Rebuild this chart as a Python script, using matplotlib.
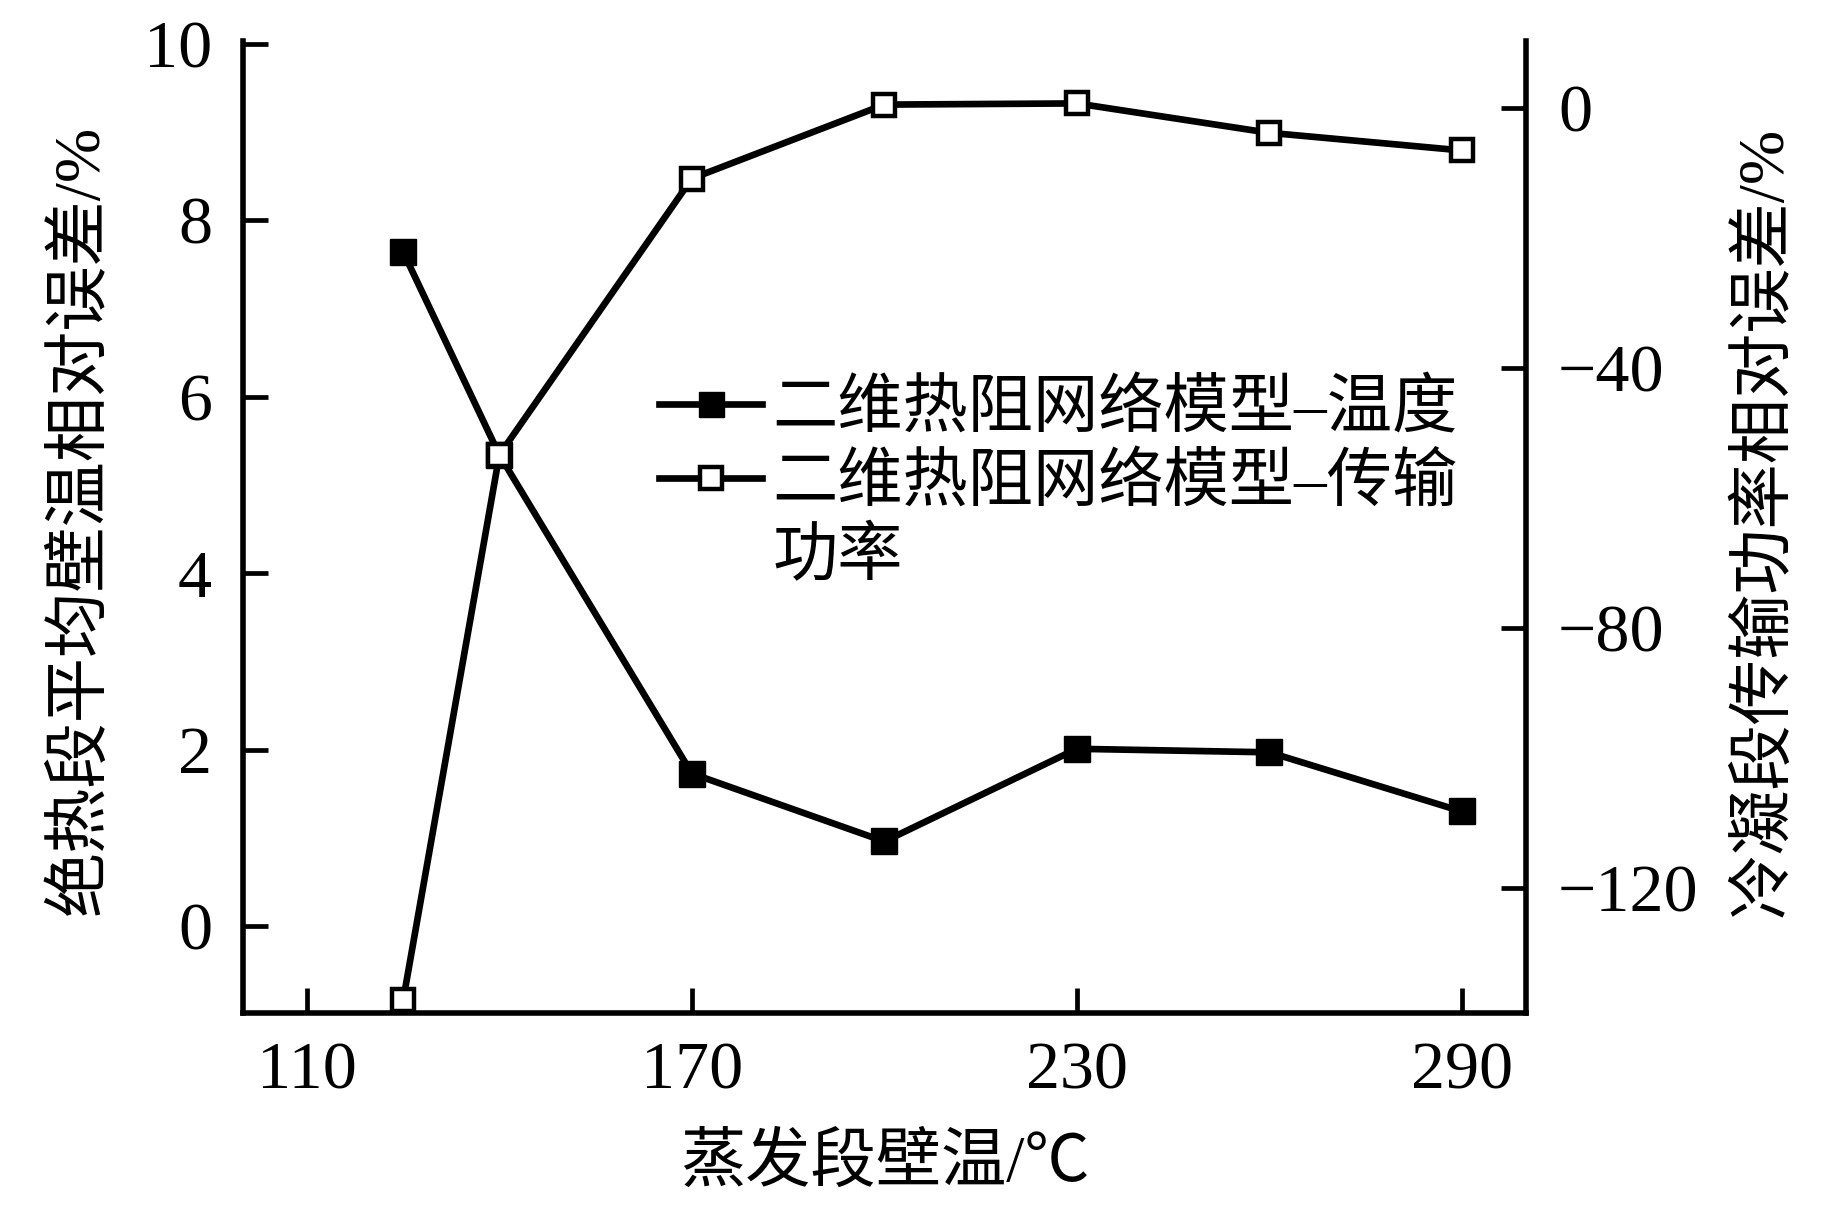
import matplotlib
matplotlib.use('Agg')
import matplotlib.pyplot as plt
from matplotlib.lines import Line2D

plt.rcParams['font.family'] = ['Liberation Serif', 'Noto Sans CJK SC']
plt.rcParams['axes.unicode_minus'] = True

# ---- data ----
x_temp = [125, 140, 170, 200, 230, 260, 290]
temp_err = [7.64, 5.34, 1.73, 0.96, 2.01, 1.97, 1.30]
power_err = [-137.2, -53.3, -10.8, 0.57, 0.75, -3.77, -6.48]

x_ticks = [110, 170, 230, 290]
left_ticks = [0, 2, 4, 6, 8, 10]
right_ticks = [-120, -80, -40, 0]

label_temp = '二维热阻网络模型–温度'
label_power = '二维热阻网络模型–传输'
label_power2 = '功率'
xlabel = '蒸发段壁温/℃'
ylabel_left = '绝热段平均壁温相对误差/%'
ylabel_right = '冷凝段传输功率相对误差/%'

# ---- figure ----
fig = plt.figure(figsize=(18.43, 12.17), dpi=100)
L, R, B, T = 0.1317, 0.828, 0.1679, 0.9663
ax1 = fig.add_axes([L, B, R - L, T - B])
ax2 = ax1.twinx()

SPW = 4.0
LW = 4.8
TICKFS = 49
LABFS = 47

for ax in (ax1, ax2):
    ax.spines['top'].set_visible(False)
    for s in ax.spines.values():
        s.set_linewidth(SPW)
ax1.spines['right'].set_visible(False)
ax2.spines['left'].set_visible(False)
ax2.spines['bottom'].set_visible(False)

ax1.plot(x_temp, temp_err, color='black', lw=LW, marker='s', ms=18.5,
         mfc='black', mec='black', mew=1, clip_on=False, zorder=3)
ax2.plot(x_temp, power_err, color='black', lw=LW, marker='s', ms=15.5,
         mfc='white', mec='black', mew=3.2, clip_on=False, zorder=3)

ax1.set_xlim(100, 300)
ax1.set_ylim(-0.98, 10.03)
ax2.set_ylim(-139.1, 10.35)

ax1.set_xticks(x_ticks)
ax1.set_yticks(left_ticks)
ax2.set_yticks(right_ticks)

ax1.tick_params(axis='x', direction='in', length=18, width=3.4, top=False,
                labelsize=TICKFS, pad=21)
ax1.tick_params(axis='y', direction='in', length=18, width=3.4, right=False,
                labelsize=TICKFS, pad=22)
ax2.tick_params(axis='y', direction='in', length=18, width=3.4, left=False,
                labelsize=TICKFS, pad=23)

ax1.set_xlabel(xlabel, fontsize=LABFS)
ax1.xaxis.set_label_coords(0.5, -0.124)
ax1.set_ylabel(ylabel_left, fontsize=LABFS)
ax1.yaxis.set_label_coords(-0.102, 0.507)
ax2.set_ylabel(ylabel_right, fontsize=LABFS)
ax2.yaxis.set_label_coords(1.162, 0.505)

handles = [
    Line2D([], [], color='black', lw=LW, marker='s', ms=18, mfc='black',
           mec='black', mew=1),
    Line2D([], [], color='black', lw=LW, marker='s', ms=15.5, mfc='white',
           mec='black', mew=3.2),
    Line2D([], [], linestyle='none', marker='none'),
]
labels = [label_temp, label_power, label_power2]
leg = ax2.legend(handles, labels, loc='upper left',
                 bbox_to_anchor=(0.3245, 0.651), frameon=False,
                 fontsize=LABFS, handlelength=1.58, handletextpad=0.15,
                 borderpad=0, borderaxespad=0, labelspacing=0.2)

fig.savefig('out.png', dpi=100)
